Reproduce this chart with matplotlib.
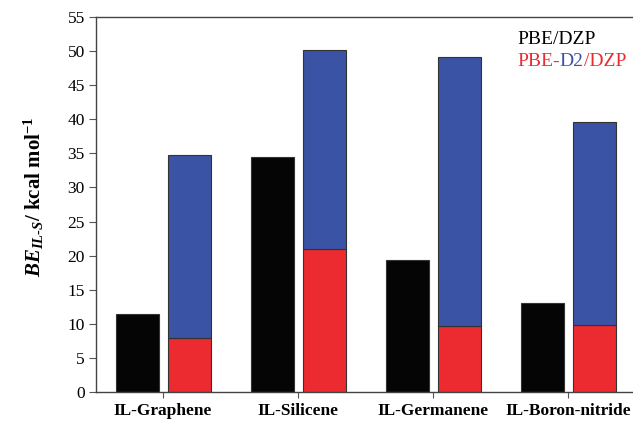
import matplotlib
matplotlib.use("Agg")
import matplotlib.pyplot as plt
import numpy as np

categories = ["IL-Graphene", "IL-Silicene", "IL-Germanene", "IL-Boron-nitride"]
pbe_dzp = [11.5, 34.5, 19.4, 13.0]
pbe_part = [7.9, 21.0, 9.7, 9.8]
pbe_d2_total = [34.8, 50.2, 49.1, 39.6]
yticks = list(range(0, 56, 5))

plt.rcParams['font.family'] = ['Liberation Serif', 'DejaVu Serif']
plt.rcParams['mathtext.fontset'] = 'custom'
plt.rcParams['mathtext.rm'] = 'Liberation Serif'
plt.rcParams['mathtext.it'] = 'Liberation Serif:italic'
plt.rcParams['mathtext.bf'] = 'Liberation Serif:bold'
plt.rcParams['mathtext.bfit'] = 'Liberation Serif:italic:bold'

BLACK = '#050505'
RED = '#EC2B30'
BLUE = '#3A53A4'
EDGE = '#333333'

fig = plt.figure(figsize=(6.33, 4.22), dpi=100)
ax = fig.add_axes([96/633, 30/422, 547/633, 375/422])

x = np.arange(len(categories))
w = 0.32
blue_part = [t - r for t, r in zip(pbe_d2_total, pbe_part)]
ax.bar(x - 0.19, pbe_dzp, width=w, color=BLACK, edgecolor=EDGE, linewidth=0.8)
ax.bar(x + 0.195, pbe_part, width=w, color=RED, edgecolor=EDGE, linewidth=0.8)
ax.bar(x + 0.195, blue_part, bottom=pbe_part, width=w, color=BLUE, edgecolor=EDGE, linewidth=0.8)

ax.set_xlim(-0.496, 3.556)
ax.set_ylim(0, 55)
ax.set_yticks(yticks)
ax.set_xticks(x)
ax.set_xticklabels(categories, fontsize=12.5, fontweight='bold')
ax.tick_params(axis='y', labelsize=12.5, direction='out', length=5, width=0.8, color='#555555', pad=3)
ax.tick_params(axis='x', direction='out', length=4, width=0.8, color='#555555', pad=4)
for s in ax.spines.values():
    s.set_linewidth(1.0)
    s.set_color('#444444')
ax.spines['right'].set_visible(False)

ax.set_ylabel(r"$\mathbfit{BE}_{\mathbfit{IL\text{-}S}}$/ kcal mol$^{\mathbf{-1}}$",
              fontsize=15, fontweight='bold')
ax.yaxis.set_label_coords(-50/547, (392 - 197) / 375)

# legend-like texts
fs = 14
fig.text(517/633, 1 - 40/422, "PBE/DZP", color='black', fontsize=fs, va='center', ha='left')
fig.canvas.draw()
r = fig.canvas.get_renderer()
xpos = 517
parts = [("PBE-", RED), ("D2", BLUE), ("/DZP", RED)]
for txt, col in parts:
    t = fig.text(xpos/633, 1 - 62/422, txt, color=col, fontsize=fs, va='center', ha='left')
    bb = t.get_window_extent(renderer=r)
    xpos += bb.width

fig.savefig("out.png", dpi=100)
